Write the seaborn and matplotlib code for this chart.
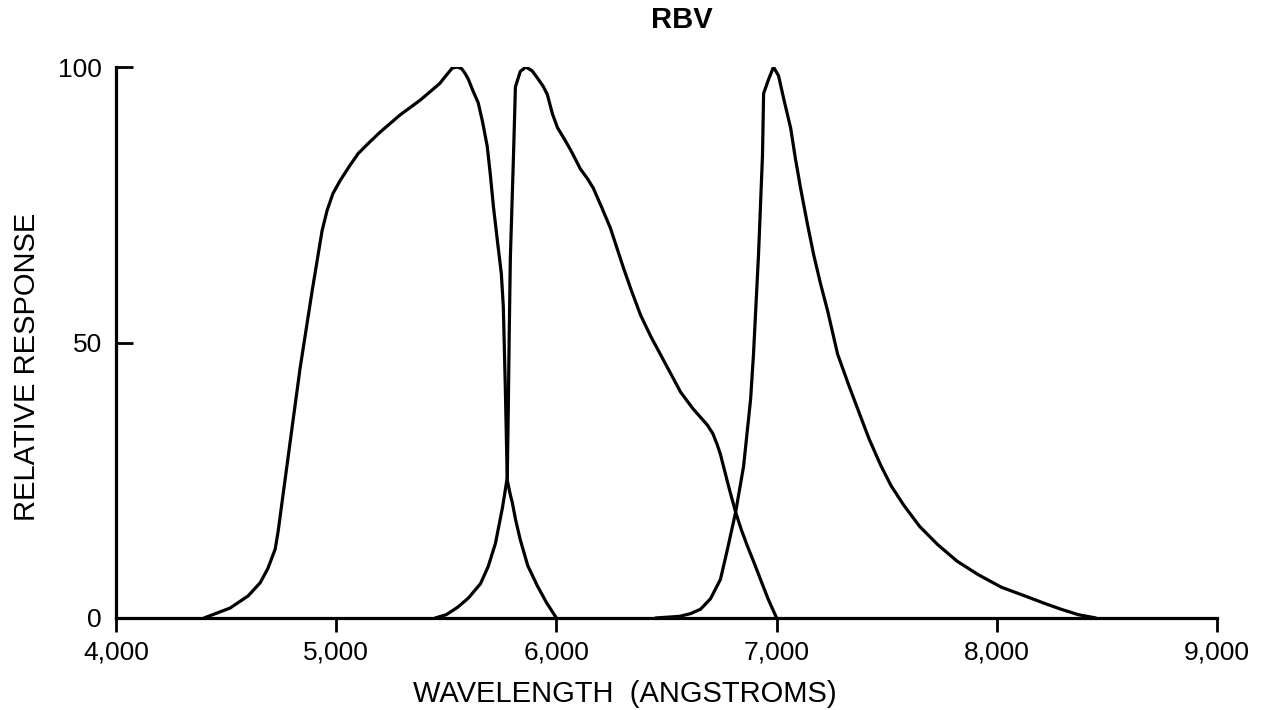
import numpy as np
import pandas as pd
import matplotlib
matplotlib.use("Agg")
import matplotlib.pyplot as plt
import seaborn as sns

# three filter response curves (wavelength in angstroms, relative response)
wl_1 = [4400, 4518, 4600, 4655, 4690, 4723, 4736, 4777, 4836, 4891, 4936, 4959, 4985, 5018,
        5060, 5100, 5150, 5200, 5290, 5382, 5470, 5500, 5527, 5550, 5570, 5586, 5600, 5620,
        5645, 5665, 5686, 5700, 5714, 5732, 5750, 5759, 5768, 5777, 5790, 5800, 5815, 5836,
        5870, 5914, 5955, 6000]
resp_1 = [0, 1.8, 4.0, 6.4, 9.0, 12.5, 15.6, 27.8, 45.3, 59.4, 70.3, 74, 77, 79.4,
          82, 84.3, 86.3, 88.2, 91.3, 94, 97, 98.5, 99.8, 100, 99.7, 98.8, 97.8, 95.8,
          93.5, 90, 85.6, 80.5, 74.7, 68.5, 62.5, 56.5, 42, 25, 22.5, 20.9, 17.8, 14.2,
          9.5, 5.8, 2.8, 0]

wl_2 = [5450, 5500, 5550, 5600, 5655, 5690, 5723, 5755, 5777, 5782, 5786, 5791, 5805, 5814,
        5836, 5862, 5890, 5914, 5940, 5959, 5982, 6005, 6035, 6064, 6109, 6140, 6168, 6205,
        6245, 6305, 6340, 6382, 6430, 6473, 6520, 6564, 6620, 6686, 6710, 6730, 6745, 6759,
        6786, 6814, 6840, 6868, 6900, 6927, 6960, 7000]
resp_2 = [0, 0.6, 1.9, 3.6, 6.2, 9.3, 13.5, 20, 25.5, 39, 52, 65.4, 83.6, 96.4,
          99.2, 100, 99.3, 98, 96.5, 95, 91.5, 89, 87, 85, 81.5, 79.8, 78, 74.6,
          70.8, 63.5, 59.5, 55, 51, 47.8, 44.3, 41, 38, 35, 33.5, 31.5, 29.7, 27.5,
          23.3, 19.2, 16, 13, 9.8, 7, 3.6, 0]

wl_3 = [6450, 6560, 6610, 6655, 6700, 6745, 6777, 6814, 6850, 6882, 6895, 6918, 6936, 6941,
        6964, 6986, 7009, 7032, 7064, 7085, 7109, 7140, 7168, 7200, 7232, 7277, 7330, 7382,
        7420, 7473, 7520, 7577, 7650, 7732, 7820, 7914, 8020, 8141, 8220, 8291, 8370, 8450]
resp_3 = [0, 0.3, 0.8, 1.6, 3.5, 7, 12.5, 19.2, 27.5, 39.7, 47.8, 66, 84, 95.2,
          97.8, 100, 98.4, 94.3, 88.9, 83.5, 78, 71.5, 66, 60.6, 55.7, 47.9, 42, 36.5,
          32.5, 27.7, 24, 20.5, 16.6, 13.3, 10.3, 7.9, 5.6, 3.8, 2.6, 1.6, 0.6, 0]

x_ticks = [4000, 5000, 6000, 7000, 8000, 9000]
y_ticks = [0, 50, 100]

sns.set_style("ticks")
plt.rcParams['font.family'] = ['Liberation Sans', 'DejaVu Sans']

fig = plt.figure(figsize=(12.66, 7.10), dpi=100)
ax = fig.add_axes([0.0916, 0.1296, 0.8697, 0.776])

for wl, resp in [(wl_1, resp_1), (wl_2, resp_2), (wl_3, resp_3)]:
    df = pd.DataFrame({"wl": wl, "resp": resp})
    sns.lineplot(data=df, x="wl", y="resp", ax=ax, color="black", linewidth=2.3,
                 estimator=None, sort=False)
for line in ax.lines:
    line.set_solid_joinstyle("round")

ax.set_xlim(4000, 9000)
ax.set_ylim(0, 100)
ax.set_xticks(x_ticks)
ax.set_xticklabels([f"{v:,}" for v in x_ticks])
ax.set_yticks(y_ticks)
ax.set_yticklabels([str(v) for v in y_ticks])

for s in ["top", "right"]:
    ax.spines[s].set_visible(False)
for s in ["left", "bottom"]:
    ax.spines[s].set_linewidth(2.3)
    ax.spines[s].set_color("black")

ax.tick_params(axis="x", direction="out", length=10, width=2, labelsize=19, pad=6, colors="black")
ax.tick_params(axis="y", direction="in", length=12, width=2, labelsize=19, pad=10, colors="black")

ax.set_xlabel("WAVELENGTH  (ANGSTROMS)", fontsize=21, color="black")
ax.xaxis.set_label_coords(0.462, -0.112)
ax.set_ylabel("RELATIVE RESPONSE", fontsize=21, color="black")
ax.yaxis.set_label_coords(-0.068, 0.455)
ax.set_title("RBV", fontsize=21, fontweight="bold", x=0.514, y=1.055, color="black")

fig.savefig("out.png", dpi=100, facecolor="white")
